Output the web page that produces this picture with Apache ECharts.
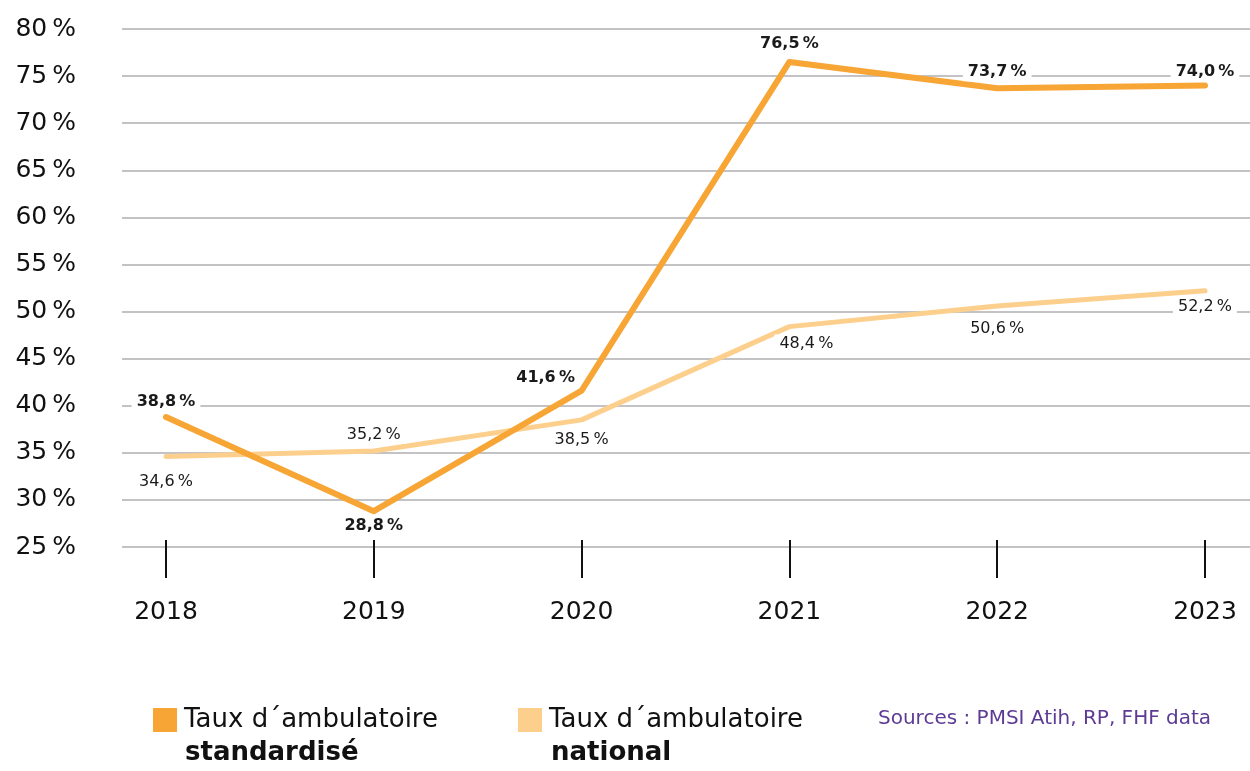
<!DOCTYPE html>
<html>
<head>
<meta charset="utf-8">
<script src="https://cdn.jsdelivr.net/npm/echarts@6/dist/echarts.min.js"></script>
<style>
  html, body { margin: 0; padding: 0; background: #fff; }
  #chart { width: 1250px; height: 771px; }
</style>
</head>
<body>
<div id="chart"></div>
<script>
var years = ['2018', '2019', '2020', '2021', '2022', '2023'];
var standardise = [38.8, 28.8, 41.6, 76.5, 73.7, 74.0];
var national = [34.6, 35.2, 38.5, 48.4, 50.6, 52.2];

// where each value label sits: [position, distance, dx]
var stdLabelPos = [['top', 6, 0], ['bottom', 6, 0], ['top', 4, -36], ['top', 9, 0], ['top', 7, 0], ['top', 5, 0]];
var natLabelPos = [['bottom', 16, 0], ['top', 7, 0], ['bottom', 11, 0], ['bottom', 8, 17], ['bottom', 14, 0], ['bottom', 7, 0]];

var font = '"DejaVu Sans"';

function fmt(v) {
  return v.toFixed(1).replace('.', ',') + '\u2009%';
}

function withLabels(values, pos) {
  return values.map(function (v, i) {
    return {
      value: v,
      label: {
        position: pos[i][0],
        distance: pos[i][1],
        offset: [pos[i][2], 0]
      }
    };
  });
}

var chart = echarts.init(document.getElementById('chart'));

var option = {
  backgroundColor: '#fff',
  animation: false,
  textStyle: { fontFamily: font },
  grid: [
    { left: 122, right: 0, top: 29, bottom: 224 },
    { left: 166, right: 45, top: 29, bottom: 224 }
  ],
  xAxis: [
    { type: 'category', gridIndex: 0, data: years, show: false },
    {
      type: 'category',
      gridIndex: 1,
      data: years,
      boundaryGap: false,
      offset: -7,
      axisLine: { show: false },
      axisTick: { show: true, length: 38, lineStyle: { color: '#111', width: 2 } },
      axisLabel: { color: '#111', fontSize: 25, margin: 60, fontFamily: font }
    }
  ],
  yAxis: [
    {
      type: 'value',
      gridIndex: 0,
      min: 25,
      max: 80,
      interval: 5,
      axisLine: { show: false },
      axisTick: { show: false },
      axisLabel: {
        color: '#111',
        fontSize: 25,
        margin: 46,
        fontFamily: font,
        formatter: '{value}\u2009%'
      },
      splitLine: { lineStyle: { color: '#c3c3c6', width: 2 } }
    },
    { type: 'value', gridIndex: 1, min: 25, max: 80, show: false }
  ],
  legend: {
    left: 148,
    top: 702,
    itemWidth: 24,
    itemHeight: 24,
    itemGap: 80,
    icon: 'rect',
    textStyle: { fontSize: 26, color: '#111', fontFamily: font, padding: [0, 0, 0, 2] },
    formatter: function () { return 'Taux d\u00b4ambulatoire'; },
    data: ['standardisé', 'national']
  },
  graphic: [
    {
      type: 'text', left: 185, top: 740,
      style: { text: 'standardisé', font: 'bold 26px ' + font, fill: '#111' }
    },
    {
      type: 'text', left: 551, top: 740,
      style: { text: 'national', font: 'bold 26px ' + font, fill: '#111' }
    },
    {
      type: 'text', left: 878, top: 709,
      style: { text: 'Sources : PMSI Atih, RP, FHF data', font: '20px ' + font, fill: '#5d3b94' }
    }
  ],
  series: [
    {
      name: 'national',
      type: 'line',
      xAxisIndex: 1,
      yAxisIndex: 1,
      data: withLabels(national, natLabelPos),
      symbol: 'circle',
      symbolSize: 0,
      showSymbol: true,
      lineStyle: { color: '#fdcf8c', width: 5, cap: 'round', join: 'round' },
      itemStyle: { color: '#fdcf8c' },
      label: {
        show: true,
        fontSize: 16,
        color: '#1a1a1a',
        fontFamily: font,
        backgroundColor: '#fff',
        padding: [1, 5],
        formatter: function (p) { return fmt(p.value); }
      },
      z: 2
    },
    {
      name: 'standardisé',
      type: 'line',
      xAxisIndex: 1,
      yAxisIndex: 1,
      data: withLabels(standardise, stdLabelPos),
      symbol: 'circle',
      symbolSize: 0,
      showSymbol: true,
      lineStyle: { color: '#f7a535', width: 6, cap: 'round', join: 'round' },
      itemStyle: { color: '#f7a535' },
      label: {
        show: true,
        fontSize: 16,
        fontWeight: 'bold',
        color: '#1a1a1a',
        fontFamily: font,
        backgroundColor: '#fff',
        padding: [1, 5],
        formatter: function (p) { return fmt(p.value); }
      },
      z: 3
    }
  ]
};

chart.setOption(option);
</script>
</body>
</html>
